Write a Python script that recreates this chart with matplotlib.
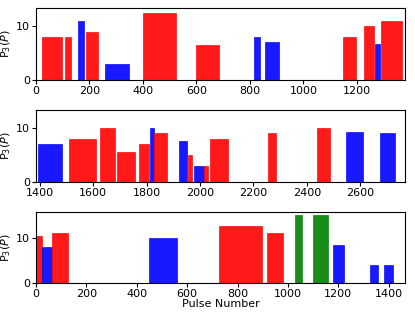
import matplotlib
matplotlib.use('Agg')
from matplotlib import pyplot as plt

# Tramos: inicio, fin (pulse number), P3, color
p1_start = [21, 107, 158, 188, 258, 402, 599, 817, 858, 1149, 1227, 1269, 1292]
p1_end = [96, 131, 180, 230, 349, 524, 684, 839, 908, 1197, 1265, 1285, 1368]
p1_val = [8, 8, 11, 9, 3, 12.5, 6.5, 8, 7, 8, 10, 6.7, 11]
p1_col = ['r', 'r', 'b', 'r', 'b', 'r', 'r', 'b', 'b', 'r', 'r', 'b', 'r']

p2_start = [1395, 1510, 1626, 1691, 1770, 1812, 1828, 1921, 1954, 1976, 2014, 2039, 2254, 2436, 2545, 2674]
p2_end = [1485, 1611, 1681, 1755, 1810, 1828, 1877, 1952, 1971, 2014, 2028, 2103, 2285, 2486, 2609, 2731]
p2_val = [7, 8, 10, 5.5, 7, 10, 9, 7.6, 5, 3, 3, 8, 9, 10, 9.3, 9]
p2_col = ['b', 'r', 'r', 'r', 'r', 'b', 'r', 'b', 'r', 'b', 'r', 'r', 'r', 'r', 'b', 'b']

p3_start = [0, 22, 65, 450, 728, 919, 1029, 1098, 1179, 1328, 1380]
p3_end = [22, 65, 128, 559, 898, 979, 1058, 1159, 1223, 1358, 1417]
p3_val = [10.5, 8, 11, 10, 12.5, 11, 15, 15, 8.5, 4, 4]
p3_col = ['r', 'b', 'r', 'b', 'r', 'r', 'g', 'g', 'b', 'b', 'b']

colores = {'r': 'red', 'b': 'blue', 'g': 'green'}

fig = plt.figure(figsize=(4.15, 3.12), dpi=100)
W, H = 415.0, 312.0
cajas = [(8, 80), (110, 182), (212, 283)]
limites_x = [(0, 1380), (1386, 2767), (0, 1465)]
limites_y = [(0, 13.4), (0, 13.3), (0, 15.7)]
paneles = [(p1_start, p1_end, p1_val, p1_col),
           (p2_start, p2_end, p2_val, p2_col),
           (p3_start, p3_end, p3_val, p3_col)]

for i, (ini, fin, val, col) in enumerate(paneles):
    top, bot = cajas[i]
    ax = fig.add_axes([36 / W, 1 - bot / H, (405 - 36) / W, (bot - top) / H])
    for a, b, v, c in zip(ini, fin, val, col):
        ax.bar(a, v, width=b - a, align='edge', color=colores[c], alpha=0.9,
               edgecolor=colores[c], linewidth=0.5)
    ax.set_xlim(*limites_x[i])
    ax.set_ylim(*limites_y[i])
    ax.set_yticks([0, 10])
    ax.tick_params(labelsize=8, length=3, pad=1.5)
    ax.set_ylabel('P$_3$($P$)', fontsize=8, labelpad=2)
    if i == 2:
        ax.set_xlabel('Pulse Number', fontsize=8, labelpad=0)

fig.savefig('out.png', dpi=100)
